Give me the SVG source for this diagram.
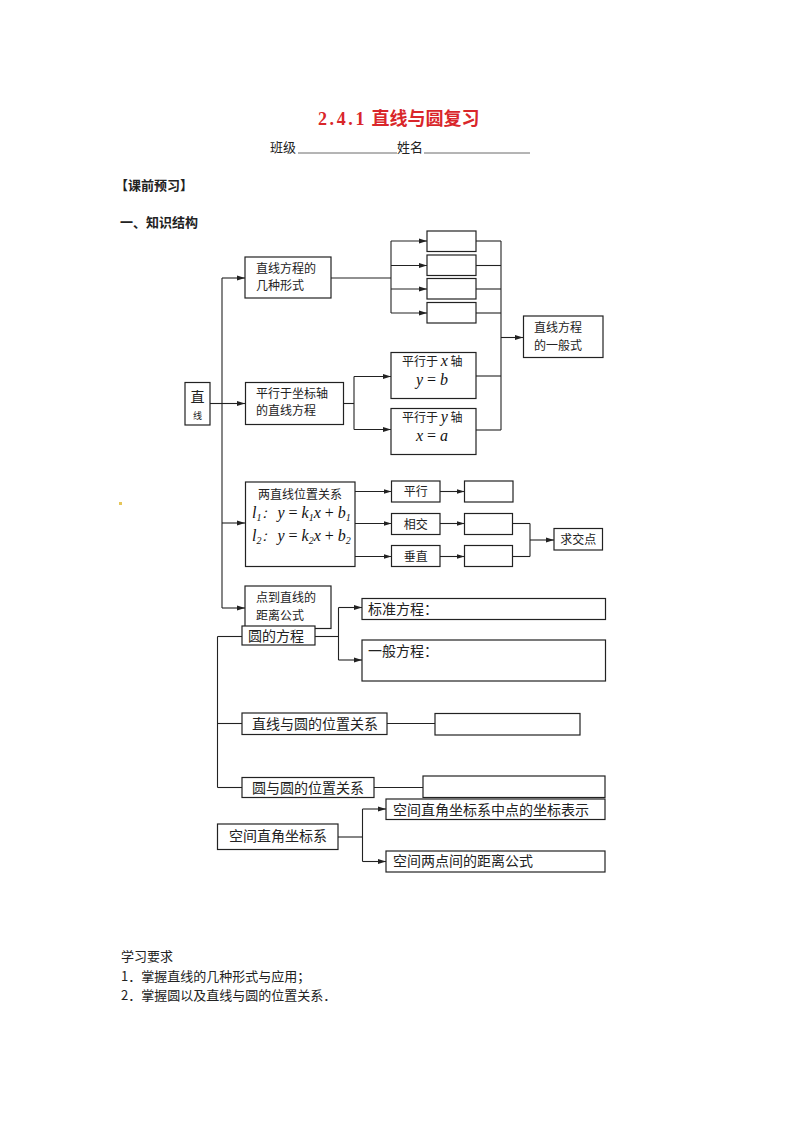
<svg xmlns="http://www.w3.org/2000/svg" width="800" height="1132" viewBox="0 0 800 1132">
<style>
.bx{fill:#fff;stroke:#222;stroke-width:1.2}
.ln{fill:none;stroke:#222;stroke-width:1.1}
.ar{fill:none;stroke:#222;stroke-width:1.1;marker-end:url(#ah)}
.t{font-family:"Noto Sans CJK SC",sans-serif;fill:#222}
.s12{font-size:12px}
.s13{font-size:13px}
.s14{font-size:14px}
.m{font-family:"Liberation Serif",serif;font-style:italic;fill:#111;font-size:16px}
.mr{font-family:"Liberation Serif",serif;font-style:normal;fill:#111;font-size:16px}
</style>
<defs>
<marker id="ah" markerWidth="8" markerHeight="6" refX="8" refY="3" orient="auto" markerUnits="userSpaceOnUse">
<path d="M0,0.5 L8,3 L0,5.5 Z" fill="#222"/>
</marker>
</defs>
<rect width="800" height="1132" fill="#fff"/>

<g id="header">
<text x="318" y="125" font-family="Liberation Serif,'Noto Sans CJK SC',serif" font-size="18" font-weight="bold" fill="#d9262a"><tspan letter-spacing="2.6">2.4.1</tspan> <tspan font-family="'Noto Sans CJK SC',sans-serif">直线与圆复习</tspan></text>
<text x="270" y="152" class="t s13">班级</text>
<line x1="298" y1="153" x2="397" y2="153" stroke="#444" stroke-width="0.8"/>
<text x="397" y="152" class="t s13">姓名</text>
<line x1="424" y1="153" x2="530" y2="153" stroke="#444" stroke-width="0.8"/>
<text x="115" y="190" class="t s13" font-weight="bold">【课前预习】</text>
<text x="120" y="227" class="t s13" font-weight="bold">一、知识结构</text>
<rect x="119" y="502" width="3" height="3" fill="#e6c65a"/>
</g>

<g id="connectors">
<line class="ln" x1="210" y1="403.5" x2="222" y2="403.5"/>
<line class="ln" x1="222" y1="278" x2="222" y2="608"/>
<line class="ar" x1="222" y1="278" x2="245" y2="278"/>
<line class="ar" x1="222" y1="403.5" x2="245" y2="403.5"/>
<line class="ar" x1="222" y1="523" x2="245" y2="523"/>
<line class="ar" x1="222" y1="608" x2="245" y2="608"/>

<line class="ln" x1="331" y1="278" x2="391" y2="278"/>
<line class="ln" x1="391" y1="241" x2="391" y2="313"/>
<line class="ar" x1="391" y1="241" x2="427" y2="241"/>
<line class="ar" x1="391" y1="265.5" x2="427" y2="265.5"/>
<line class="ar" x1="391" y1="289" x2="427" y2="289"/>
<line class="ar" x1="391" y1="313" x2="427" y2="313"/>
<line class="ln" x1="476" y1="241" x2="501" y2="241"/>
<line class="ln" x1="476" y1="265.5" x2="501" y2="265.5"/>
<line class="ln" x1="476" y1="289" x2="501" y2="289"/>
<line class="ln" x1="476" y1="313" x2="501" y2="313"/>
<line class="ln" x1="476" y1="376" x2="501" y2="376"/>
<line class="ln" x1="476" y1="430" x2="501" y2="430"/>
<line class="ln" x1="501" y1="241" x2="501" y2="430"/>
<line class="ar" x1="501" y1="337.5" x2="523" y2="337.5"/>

<line class="ln" x1="343" y1="403.5" x2="354" y2="403.5"/>
<line class="ln" x1="354" y1="376.5" x2="354" y2="429.5"/>
<line class="ar" x1="354" y1="376.5" x2="391" y2="376.5"/>
<line class="ar" x1="354" y1="429.5" x2="391" y2="429.5"/>

<line class="ar" x1="355" y1="491.5" x2="391.5" y2="491.5"/>
<line class="ar" x1="355" y1="523.5" x2="391.5" y2="523.5"/>
<line class="ar" x1="355" y1="556.5" x2="391.5" y2="556.5"/>
<line class="ar" x1="440" y1="491.5" x2="464.5" y2="491.5"/>
<line class="ar" x1="440" y1="523.5" x2="464.5" y2="523.5"/>
<line class="ar" x1="440" y1="556.5" x2="464.5" y2="556.5"/>
<line class="ln" x1="512.5" y1="523.5" x2="530" y2="523.5"/>
<line class="ln" x1="512.5" y1="556.5" x2="530" y2="556.5"/>
<line class="ln" x1="530" y1="523.5" x2="530" y2="556.5"/>
<line class="ar" x1="530" y1="540" x2="554" y2="540"/>

<line class="ln" x1="315" y1="636.5" x2="338.5" y2="636.5"/>
<line class="ln" x1="338.5" y1="607.5" x2="338.5" y2="660"/>
<line class="ar" x1="338.5" y1="607.5" x2="362" y2="607.5"/>
<line class="ar" x1="338.5" y1="660" x2="362" y2="660"/>

<line class="ln" x1="217.5" y1="636.5" x2="217.5" y2="787.5"/>
<line class="ln" x1="217.5" y1="636.5" x2="242" y2="636.5"/>
<line class="ln" x1="217.5" y1="723.5" x2="242" y2="723.5"/>
<line class="ln" x1="217.5" y1="787.5" x2="242" y2="787.5"/>
<line class="ln" x1="387" y1="723.5" x2="435" y2="723.5"/>
<line class="ln" x1="374" y1="787.5" x2="423" y2="787.5"/>

<line class="ln" x1="338" y1="837" x2="362.5" y2="837"/>
<line class="ln" x1="362.5" y1="809" x2="362.5" y2="861.5"/>
<line class="ar" x1="362.5" y1="809" x2="386" y2="809"/>
<line class="ar" x1="362.5" y1="861.5" x2="386" y2="861.5"/>
</g>

<g id="n-zhi">
<rect class="bx" x="185" y="382.5" width="25" height="42.5"/>
<text x="197.5" y="402" text-anchor="middle" class="t" font-size="14">直</text>
<text x="197.5" y="419" text-anchor="middle" class="t" font-size="9">线</text>
</g>

<g id="n-forms">
<rect class="bx" x="245" y="257" width="86" height="41"/>
<text x="256" y="273" class="t s12">直线方程的</text>
<text x="256" y="290" class="t s12">几种形式</text>
</g>

<g id="n-blank1"><rect class="bx" x="427" y="231" width="49" height="20.5"/></g>
<g id="n-blank2"><rect class="bx" x="427" y="255" width="49" height="20.5"/></g>
<g id="n-blank3"><rect class="bx" x="427" y="278.5" width="49" height="20.5"/></g>
<g id="n-blank4"><rect class="bx" x="427" y="302.5" width="49" height="20.5"/></g>

<g id="n-general">
<rect class="bx" x="523.5" y="316" width="79.5" height="41.5"/>
<text x="534" y="332" class="t s12">直线方程</text>
<text x="534" y="350" class="t s12">的一般式</text>
</g>

<g id="n-parallel-axis">
<rect class="bx" x="245.5" y="382.5" width="98" height="42"/>
<text x="256" y="398" class="t s12">平行于坐标轴</text>
<text x="256" y="415" class="t s12">的直线方程</text>
</g>

<g id="n-px">
<rect class="bx" x="391" y="352.5" width="85" height="46"/>
<text x="402" y="366" class="t s12">平行于 <tspan class="m" font-size="15">x</tspan> 轴</text>
<text x="432" y="385" text-anchor="middle" class="m">y<tspan class="mr"> = </tspan>b</text>
</g>

<g id="n-py">
<rect class="bx" x="391" y="408.5" width="85" height="46"/>
<text x="402" y="422" class="t s12">平行于 <tspan class="m" font-size="15">y</tspan> 轴</text>
<text x="432" y="441" text-anchor="middle" class="m">x<tspan class="mr"> = </tspan>a</text>
</g>

<g id="n-two-lines">
<rect class="bx" x="245.5" y="482" width="109.5" height="84.5"/>
<text x="300" y="499" text-anchor="middle" class="t s12">两直线位置关系</text>
<text x="252" y="518" class="m">l<tspan font-size="10" dy="3">1</tspan><tspan dy="-3" class="t s12">：</tspan><tspan dx="4">y</tspan><tspan class="mr"> = </tspan>k<tspan font-size="10" dy="3">1</tspan><tspan dy="-3">x</tspan><tspan class="mr"> + </tspan>b<tspan font-size="10" dy="3">1</tspan></text>
<text x="252" y="541" class="m">l<tspan font-size="10" dy="3">2</tspan><tspan dy="-3" class="t s12">：</tspan><tspan dx="4">y</tspan><tspan class="mr"> = </tspan>k<tspan font-size="10" dy="3">2</tspan><tspan dy="-3">x</tspan><tspan class="mr"> + </tspan>b<tspan font-size="10" dy="3">2</tspan></text>
</g>

<g id="n-pingxing">
<rect class="bx" x="391.5" y="481" width="48.5" height="21"/>
<text x="415.75" y="496" text-anchor="middle" class="t s12">平行</text>
</g>
<g id="n-xiangjiao">
<rect class="bx" x="391.5" y="513.5" width="48.5" height="21"/>
<text x="415.75" y="528.5" text-anchor="middle" class="t s12">相交</text>
</g>
<g id="n-chuizhi">
<rect class="bx" x="391.5" y="545.5" width="48.5" height="21"/>
<text x="415.75" y="560.5" text-anchor="middle" class="t s12">垂直</text>
</g>
<g id="n-b5"><rect class="bx" x="464.5" y="481" width="48.5" height="21"/></g>
<g id="n-b6"><rect class="bx" x="464.5" y="513.5" width="48" height="21"/></g>
<g id="n-b7"><rect class="bx" x="464.5" y="545.5" width="48" height="21"/></g>
<g id="n-jiaodian">
<rect class="bx" x="554" y="528.5" width="48.5" height="21.5"/>
<text x="578.25" y="544" text-anchor="middle" class="t s12">求交点</text>
</g>

<g id="n-distance">
<rect class="bx" x="245" y="586" width="86" height="42.5"/>
<text x="256" y="602" class="t s12">点到直线的</text>
<text x="256" y="620" class="t s12">距离公式</text>
</g>

<g id="n-circle-eq">
<rect class="bx" x="242" y="626" width="73" height="19"/>
<text x="248" y="641" class="t s14">圆的方程</text>
</g>

<g id="n-standard">
<rect class="bx" x="362" y="598.5" width="243.5" height="21"/>
<text x="368" y="614" class="t s14">标准方程：</text>
</g>
<g id="n-gen-eq">
<rect class="bx" x="362" y="640" width="243.5" height="41"/>
<text x="368" y="656" class="t s14">一般方程：</text>
</g>

<g id="n-line-circle">
<rect class="bx" x="242" y="713" width="145" height="21.5"/>
<text x="252" y="729" class="t s14">直线与圆的位置关系</text>
</g>
<g id="n-b8"><rect class="bx" x="435" y="713.5" width="145" height="21.5"/></g>

<g id="n-circle-circle">
<rect class="bx" x="242" y="777.5" width="132" height="20"/>
<text x="252" y="793" class="t s14">圆与圆的位置关系</text>
</g>
<g id="n-b9"><rect class="bx" x="423" y="776" width="182" height="21.5"/></g>

<g id="n-space">
<rect class="bx" x="217.5" y="824" width="120.5" height="25.5"/>
<text x="229" y="841" class="t s14">空间直角坐标系</text>
</g>
<g id="n-space-pt">
<rect class="bx" x="386" y="799" width="219" height="20.5"/>
<text x="393" y="815" class="t s14">空间直角坐标系中点的坐标表示</text>
</g>
<g id="n-space-dist">
<rect class="bx" x="386" y="851" width="219" height="21"/>
<text x="393" y="866" class="t s14">空间两点间的距离公式</text>
</g>

<g id="footer">
<text x="121" y="961" class="t s13">学习要求</text>
<text x="121" y="981" class="t s13">1．掌握直线的几种形式与应用；</text>
<text x="121" y="1000" class="t s13">2．掌握圆以及直线与圆的位置关系．</text>
</g>
</svg>
